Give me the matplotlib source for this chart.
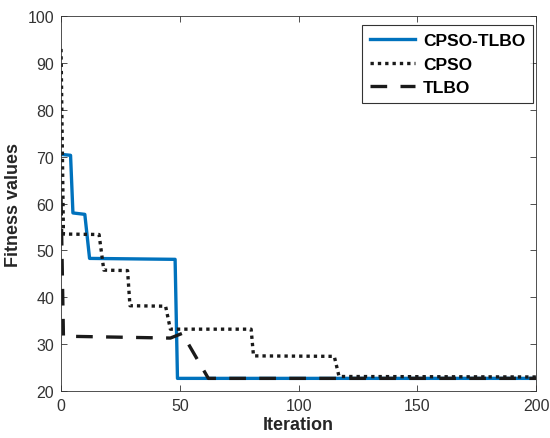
import matplotlib
matplotlib.use("Agg")
import matplotlib.pyplot as plt

# convergence curves (breakpoints of each fitness history)
iter_hybrid = [0, 4, 5, 10, 12, 48, 49, 200]
fit_hybrid = [70.5, 70.3, 58.0, 57.7, 48.3, 48.1, 22.7, 22.7]

iter_cpso = [0, 1, 16, 18, 28, 29, 44, 46, 80, 81, 115, 117, 200]
fit_cpso = [93.0, 53.5, 53.4, 45.8, 45.7, 38.2, 38.1, 33.2, 33.2, 27.5, 27.4, 23.1, 23.0]

iter_tlbo = [0, 1, 46, 51, 62, 200]
fit_tlbo = [61.0, 31.7, 31.3, 32.3, 22.7, 22.7]

x_ticks = [0, 50, 100, 150, 200]
y_ticks = [20, 30, 40, 50, 60, 70, 80, 90, 100]

plt.rcParams['font.family'] = ['Liberation Sans', 'DejaVu Sans']

fig = plt.figure(figsize=(5.5, 4.39), dpi=100)
ax = fig.add_axes([0.111, 0.107, 0.864, 0.854])

ax.plot(iter_hybrid, fit_hybrid, color='#0072BD', lw=2.4, label='CPSO-TLBO')
ax.plot(iter_cpso, fit_cpso, color='#1a1a1a', lw=2.4, linestyle=(0, (1, 1.2)), label='CPSO')
ax.plot(iter_tlbo, fit_tlbo, color='#1a1a1a', lw=2.4, linestyle=(0, (5, 4)), label='TLBO')

ax.set_xlim(0, 200)
ax.set_ylim(20, 100)
ax.set_xticks(x_ticks)
ax.set_yticks(y_ticks)
ax.tick_params(direction='in', top=True, right=True, length=4, width=0.6,
               labelsize=11.5, colors='#333333', pad=5)
for s in ax.spines.values():
    s.set_color('#333333')
    s.set_linewidth(0.6)

ax.set_xlabel('Iteration', fontsize=13, fontweight='bold', color='#262626', labelpad=2)
ax.set_ylabel('Fitness values', fontsize=13, fontweight='bold', color='#262626', labelpad=4)

leg = ax.legend(loc='upper right', fontsize=12.5, frameon=True, fancybox=False,
                handlelength=2.6, borderpad=0.45, labelspacing=0.5,
                handletextpad=0.45, bbox_to_anchor=(1.012, 1.0))
leg.get_frame().set_edgecolor('black')
leg.get_frame().set_linewidth(0.8)
for t in leg.get_texts():
    t.set_fontweight('bold')

fig.savefig('out.png', dpi=100)
